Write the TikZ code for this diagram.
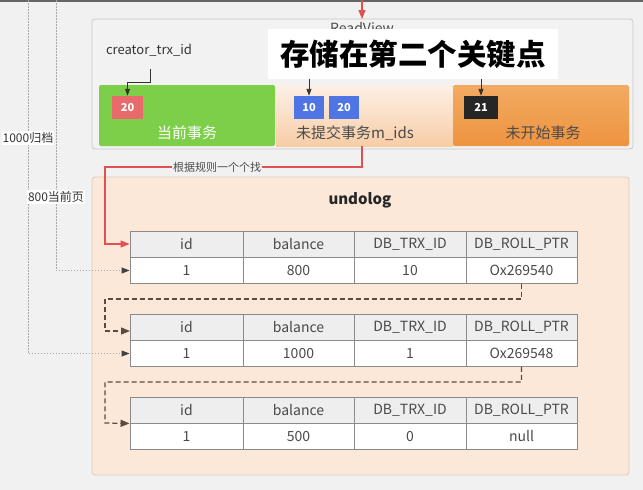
\documentclass[tikz,border=0pt]{standalone}
\usepackage{fontspec}
\setmainfont{Noto Sans CJK SC}
\usetikzlibrary{arrows.meta}
\definecolor{bg}{HTML}{F1F1F1}
\definecolor{rvfill}{HTML}{F2F2F2}
\definecolor{rvdraw}{HTML}{C8C8C8}
\definecolor{greenbox}{HTML}{7DCF4A}
\definecolor{redsq}{HTML}{E86A6A}
\definecolor{bluesq}{HTML}{4F74E3}
\definecolor{blacksq}{HTML}{262626}
\definecolor{orangetop}{HTML}{F2AA62}
\definecolor{orangebot}{HTML}{EE9440}
\definecolor{peachtop}{HTML}{FCF0E6}
\definecolor{peachbot}{HTML}{F7CDA6}
\definecolor{undofill}{HTML}{FBE8D8}
\definecolor{undodraw}{HTML}{DCCBBB}
\definecolor{hdrfill}{HTML}{EEEEEE}
\definecolor{celldraw}{HTML}{8A8A8A}
\definecolor{txt}{HTML}{4A4A4A}
\definecolor{redline}{HTML}{E05050}
\definecolor{dashline}{HTML}{5A4A40}
\definecolor{dotline}{HTML}{A8A8A8}
\tikzset{
  bigbox/.style={rectangle, rounded corners=3pt, inner sep=0pt},
  sq/.style={rectangle, inner sep=0pt, minimum width=30pt, minimum height=23pt, text=white, font=\bfseries\fontsize{11}{11}\selectfont},
  boxlbl/.style={font=\fontsize{15}{15}\selectfont, inner sep=0pt},
  hcell/.style={rectangle, draw=celldraw, line width=0.9pt, fill=hdrfill, minimum height=26pt, inner sep=0pt, text=txt, font=\fontsize{14}{14}\selectfont},
  dcell/.style={rectangle, draw=celldraw, line width=0.9pt, fill=white, minimum height=26pt, inner sep=0pt, text=txt, font=\fontsize{14}{14}\selectfont},
  blackarr/.style={draw=black!80, line width=0.9pt, -{Triangle[length=7pt,width=5pt]}},
  redarr/.style={draw=redline, line width=1.2pt, -{Triangle[length=9pt,width=7pt]}},
  dasharr/.style={draw=dashline, line width=1.3pt, dash pattern=on 5pt off 3pt, -{Triangle[length=9pt,width=7pt]}},
  dotarr/.style={draw=dotline, line width=0.9pt, dash pattern=on 1.5pt off 1.5pt, -{Triangle[length=8pt,width=6pt,color=black!75]}},
  sidelbl/.style={fill=white, inner sep=1pt, text=black!80, font=\fontsize{12}{12}\selectfont},
}
\newcommand\undotable[5]{%
  \node[hcell, minimum width=113pt] (#1h1) at (186.5,{#2+13}) {id};
  \node[hcell, minimum width=111pt] (#1h2) at (298.5,{#2+13}) {balance};
  \node[hcell, minimum width=112pt] (#1h3) at (410,{#2+13}) {DB\_TRX\_ID};
  \node[hcell, minimum width=111pt] (#1h4) at (521.5,{#2+13}) {DB\_ROLL\_PTR};
  \node[dcell, minimum width=113pt] (#1d1) at (186.5,{#2+39.5}) {1};
  \node[dcell, minimum width=111pt] (#1d2) at (298.5,{#2+39.5}) {#3};
  \node[dcell, minimum width=112pt] (#1d3) at (410,{#2+39.5}) {#4};
  \node[dcell, minimum width=111pt] (#1d4) at (521.5,{#2+39.5}) {#5};
}
\begin{document}
\begin{tikzpicture}[x=1pt,y=-1pt]
\fill[bg] (0,0) rectangle (643,490);
\useasboundingbox (0,0) rectangle (643,490);
\fill[black!60] (0,0) rectangle (643,1.5);

% ReadView container
\node[bigbox, draw=rvdraw, fill=rvfill, line width=0.8pt, minimum width=541pt, minimum height=130pt] (rv) at (362.5,84) {};
\node[text=txt, font=\fontsize{14}{14}\selectfont] (rvtitle) at (362,28) {ReadView};

% three sections
\node[rectangle, rounded corners=2pt, fill=greenbox, minimum width=176pt, minimum height=61pt, inner sep=0pt] (cur) at (187,115.5) {};
\shade[top color=peachtop, bottom color=peachbot] (276,85) rectangle (453,146);
\node[rectangle, minimum width=177pt, minimum height=61pt, inner sep=0pt] (mid) at (364.5,115.5) {};
\node[rectangle, rounded corners=2pt, top color=orangetop, bottom color=orangebot, minimum width=176pt, minimum height=61pt, inner sep=0pt] (fut) at (541,115.5) {};

\node[sq, fill=redsq, minimum width=31pt] (r20) at (127.5,107.5) {20};
\node[sq, fill=bluesq] (b10) at (309,107.5) {10};
\node[sq, fill=bluesq] (b20) at (344,107.5) {20};
\node[sq, fill=blacksq, minimum width=34pt] (k21) at (481,107.5) {21};

\node[boxlbl, text=white] (curlbl) at (187,133) {当前事务};
\node[boxlbl, text=txt] (midlbl) at (355,133) {未提交事务m\_ids};
\node[boxlbl, text=txt] (futlbl) at (543,133) {未开始事务};

% creator_trx_id
\node[text=black!80, font=\fontsize{13}{13}\selectfont, inner sep=1pt] (creator) at (149,50) {creator\_trx\_id};
\coordinate (c1) at (150,69);
\draw[blackarr] (c1) -- (150,82) -| (r20.north);

% banner
\node[fill=white, minimum width=290pt, minimum height=50pt, inner sep=0pt, font=\bfseries\fontsize{29.5}{29.5}\selectfont] (banner) at (413,54) {存储在第二个关键点};
\draw[blackarr] (b10.north |- banner.south) -- (b10.north);
\draw[blackarr] (k21.north |- banner.south) -- (k21.north);

% red top arrow
\coordinate (topin) at (362,0);
\draw[redarr] (topin) -- (362,19);

% undolog container
\node[bigbox, draw=undodraw, fill=undofill, line width=0.8pt, minimum width=537pt, minimum height=298pt] (undo) at (360.5,326) {};
\node[font=\bfseries\fontsize{15}{15}\selectfont, text=black!85] (undotitle) at (360,200) {undolog};

% tables
\undotable{t1}{231}{800}{10}{Ox269540}
\undotable{t2}{314}{1000}{1}{Ox269548}
\undotable{t3}{397}{500}{0}{null}

% red search path
\draw[redarr] (362,146) -- (362,167) -| (105,244) -- (t1h1.west);
\node[fill=bg, inner sep=1pt, text=black!70, font=\fontsize{11}{11}\selectfont] (rule) at (217,167) {根据规则一个个找};

% dashed roll pointers
\draw[dasharr] (t1d4.south) -- ++(0,15) -| (105,331) -- (130,331);
\draw[dasharr] (t2d4.south) -- ++(0,15) -| (105,423) -- (t3h1.south west);

% dotted pointers from left
\coordinate (d1000) at (28,0);
\coordinate (d800) at (56,0);
\draw[dotarr] (d1000) |- (t2d1.west);
\draw[dotarr] (d800) |- (t1d1.west);
\node[sidelbl] (l1000) at (28,138) {1000归档};
\node[sidelbl] (l800) at (56,197) {800当前页};
\end{tikzpicture}
\end{document}
